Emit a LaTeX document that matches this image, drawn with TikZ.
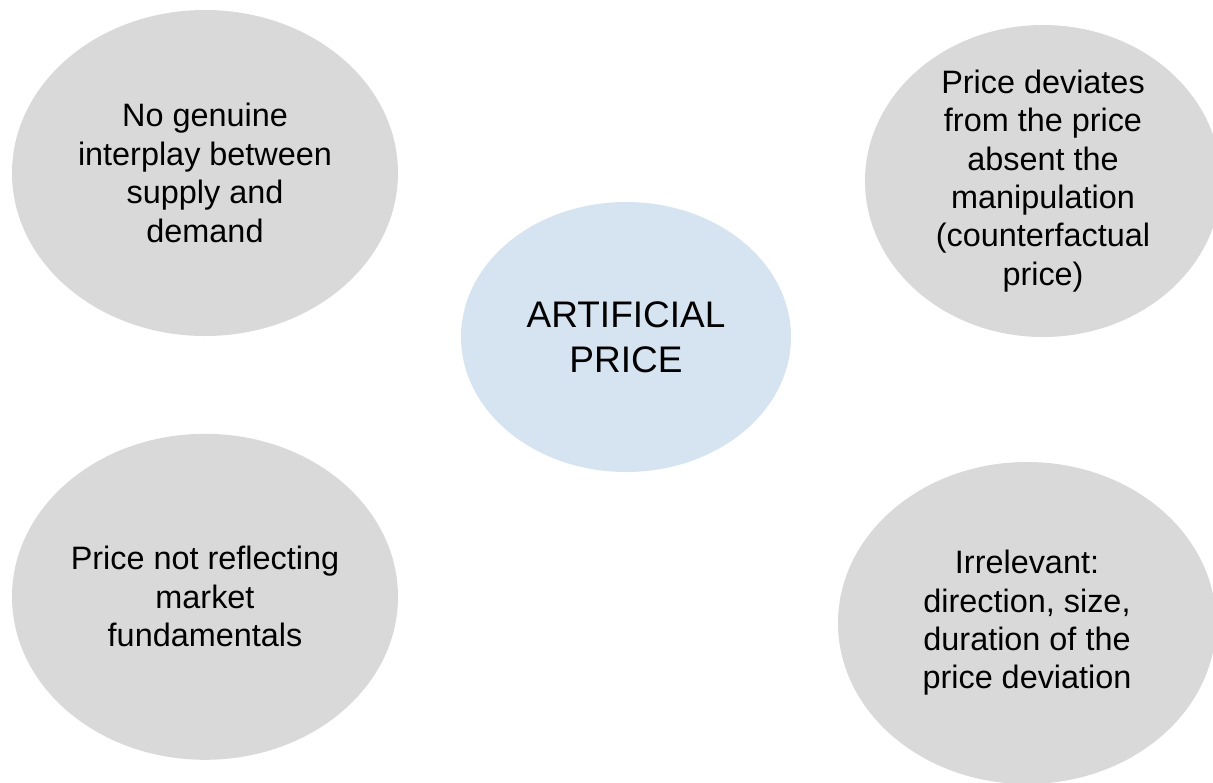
\documentclass[tikz,border=0pt]{standalone}
\usepackage{fontspec}
\setmainfont{Liberation Sans}
\usetikzlibrary{positioning, shapes.geometric}
\definecolor{bubblegray}{HTML}{D9D9D9}
\definecolor{coreblue}{RGB}{214,228,242}

\begin{document}
\begin{tikzpicture}[
    x=0.5pt, y=-0.5pt,
    bubble/.style={ellipse, fill=bubblegray, inner sep=-20pt, align=center, font=\fontsize{16.2}{19.2}\selectfont},
    core/.style={ellipse, fill=coreblue, inner sep=0pt, minimum width=165pt, minimum height=135pt, align=center, font=\fontsize{18.5}{22.5}\selectfont}
]
\useasboundingbox (0,0) rectangle (1213,782);
\clip (0,0) rectangle (1213,782);

% Nodes
\node (Core) [core] at (626,337) {ARTIFICIAL\\PRICE};

\node (Interplay) [bubble, minimum width=193pt, minimum height=163pt] at (205,173) {No genuine\\interplay between\\supply and\\demand};
\node (Fundamentals) [bubble, minimum width=193pt, minimum height=163pt, below=48.5pt of Interplay] {Price not reflecting\\market\\fundamentals};

\node (Deviation) [bubble, minimum width=178pt, minimum height=156pt] at (1043,181) {Price deviates\\from the price\\absent the\\manipulation\\(counterfactual\\price)};
\node (Irrelevant) [bubble, minimum width=189pt, minimum height=161pt] at (1027,623) {Irrelevant:\\direction, size,\\duration of the\\price deviation};

\end{tikzpicture}
\end{document}
